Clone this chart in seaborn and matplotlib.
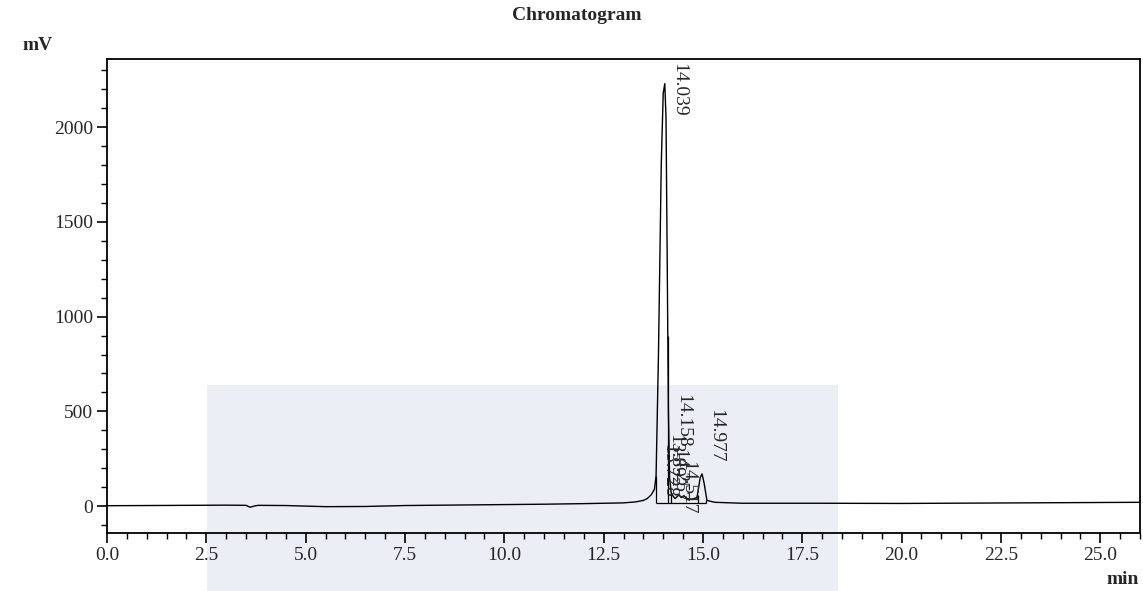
import pandas as pd
import seaborn as sns
import matplotlib.pyplot as plt
from matplotlib.patches import Rectangle

# trace (time in min, signal in mV)
times = [0.0, 1.0, 2.0, 3.0, 3.5, 3.6, 3.7, 3.8, 4.5, 5.0, 5.5, 6.5, 7.5, 8.5,
         10.0, 11.0, 12.0, 13.0, 13.3, 13.5, 13.6, 13.7, 13.78, 13.82, 13.88,
         13.95, 14.0, 14.039, 14.07, 14.1, 14.13, 14.16, 14.2, 14.257, 14.3,
         14.4, 14.45, 14.517, 14.6, 14.7, 14.85, 14.93, 14.977, 15.03, 15.1,
         15.3, 16.0, 18.0, 20.0, 22.0, 24.0, 26.0]
signal = [2, 3, 4, 5, 4, -6, 0, 4, 3, 0, -3, -2, 3, 5,
          8, 10, 13, 17, 22, 30, 40, 60, 90, 160, 800,
          1800, 2180, 2230, 2050, 1300, 500, 150, 70, 50, 40,
          60, 45, 55, 40, 35, 45, 150, 170, 120, 30,
          20, 15, 15, 14, 16, 18, 20]

peak_labels = ["13.728", "13.892", "14.039", "14.158", "14.257", "14.517", "14.977"]
label_x = [14.15, 14.30, 14.38, 14.50, 14.38, 14.62, 15.31]
label_top = [330, 380, 2340, 590, 300, 240, 510]

drop_times = [13.82, 14.12, 14.2, 14.88, 15.08]
drop_tops = [160, 900, 70, 60, 30]

df = pd.DataFrame({"time": times, "mV": signal})

sns.set_style("ticks")
plt.rcParams["font.family"] = ["Liberation Serif", "DejaVu Serif"]

fig = plt.figure(figsize=(11.43, 5.91), dpi=100)
fig.patch.set_facecolor("white")
# faint watermark band behind the plot
fig.patches.append(Rectangle((207 / 1143, 0), (838 - 207) / 1143, 1 - 385 / 591,
                             transform=fig.transFigure, facecolor="#eceef6",
                             edgecolor="none", zorder=-5))
ax = fig.add_axes([107 / 1143, 1 - 533 / 591, (1140 - 107) / 1143, (533 - 59) / 591])
ax.set_facecolor("none")
ax.set_zorder(2)

sns.lineplot(data=df, x="time", y="mV", ax=ax, color="black", linewidth=1.0)

ax.vlines(drop_times, 15, drop_tops, color="black", linewidth=0.9)
ax.hlines(15, 13.82, 15.08, color="black", linewidth=0.9)

for lx, ly, lab in zip(label_x, label_top, peak_labels):
    ax.text(lx, ly, lab, rotation=270, ha="center", va="top", fontsize=14)

ax.set_xlim(0, 26)
ax.set_ylim(-142, 2360)
ax.set_xticks([0, 2.5, 5, 7.5, 10, 12.5, 15, 17.5, 20, 22.5, 25])
ax.set_xticklabels(["0.0", "2.5", "5.0", "7.5", "10.0", "12.5", "15.0", "17.5",
                    "20.0", "22.5", "25.0"])
ax.set_xticks([x * 0.5 for x in range(53)], minor=True)
ax.set_yticks([0, 500, 1000, 1500, 2000])
ax.set_yticks(list(range(-100, 2400, 100)), minor=True)
ax.tick_params(axis="both", which="major", length=7, width=1.2, labelsize=14,
               direction="out", color="black", pad=3)
ax.tick_params(axis="both", which="minor", length=4, width=1.0, direction="out",
               color="black")
for sp in ax.spines.values():
    sp.set_visible(True)
    sp.set_color("black")
    sp.set_linewidth(1.3)
ax.set_xlabel("")
ax.set_ylabel("")

fig.text(577 / 1143, 1 - 16 / 591, "Chromatogram", ha="center", va="center",
         fontsize=14, fontweight="bold")
fig.text(38 / 1143, 1 - 46 / 591, "mV", ha="center", va="center", fontsize=14,
         fontweight="bold")
fig.text(1123 / 1143, 1 - 580 / 591, "min", ha="center", va="center", fontsize=14,
         fontweight="bold")

fig.savefig("out.png", dpi=100)
